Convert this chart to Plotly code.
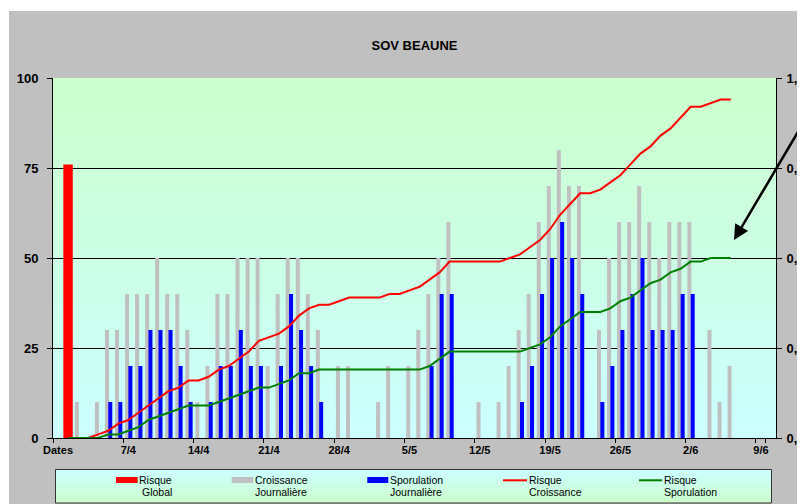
import pandas as pd
import plotly.graph_objects as go

# ---------------- data ----------------
dates = [f"{d.day}/{d.month}" for d in pd.date_range("2008-04-01", "2008-06-10")]
categories = ["Dates"] + dates
tick_labels = ["Dates", "7/4", "14/4", "21/4", "28/4", "5/5", "12/5", "19/5", "26/5", "2/6", "9/6"]

N = None
# values aligned with `dates` (1/4 ... 10/6)
risque_global = [76] + [N] * 70

croissance_journaliere = [
    N, 10, N, 10, 30, 30, 40, 40, 40, 50,
    40, 40, 30, 10, 20, 40, 40, 50, 50, 50,
    20, 40, 50, 50, 40, 30, N, 20, 20, N,
    N, 10, 20, N, 20, 30, 40, 50, 60, N,
    N, 10, N, 10, 20, 30, 40, 60, 70, 80,
    70, 70, N, 30, 50, 60, 60, 70, 60, 50,
    60, 60, 60, N, 30, 10, 20, N, N, N, N,
]

sporulation_journaliere = [
    N, N, N, N, 10, 10, 20, 20, 30, 30,
    30, 20, 10, N, 10, 20, 20, 30, 20, 20,
    N, 20, 40, 30, 20, 10, N, N, N, N,
    N, N, N, N, N, N, 20, 40, 40, N,
    N, N, N, N, N, 10, 20, 40, 50, 60,
    50, 40, N, 10, 20, 30, 40, 50, 30, 30,
    30, 40, 40, N, N, N, N, N, N, N, N,
]

risque_croissance = [
    0.00, 0.00, 0.00, 0.01, 0.02, 0.04, 0.05, 0.07, 0.09, 0.11,
    0.13, 0.14, 0.16, 0.16, 0.17, 0.19, 0.20, 0.22, 0.24, 0.27,
    0.28, 0.29, 0.31, 0.34, 0.36, 0.37, 0.37, 0.38, 0.39, 0.39,
    0.39, 0.39, 0.40, 0.40, 0.41, 0.42, 0.44, 0.46, 0.49, 0.49,
    0.49, 0.49, 0.49, 0.49, 0.50, 0.51, 0.53, 0.55, 0.58, 0.62,
    0.65, 0.68, 0.68, 0.69, 0.71, 0.73, 0.76, 0.79, 0.81, 0.84,
    0.86, 0.89, 0.92, 0.92, 0.93, 0.94, 0.94, N, N, N, N,
]

risque_sporulation = [
    0.00, 0.00, 0.00, 0.00, 0.01, 0.01, 0.02, 0.03, 0.05, 0.06,
    0.07, 0.08, 0.09, 0.09, 0.09, 0.10, 0.11, 0.12, 0.13, 0.14,
    0.14, 0.15, 0.16, 0.18, 0.18, 0.19, 0.19, 0.19, 0.19, 0.19,
    0.19, 0.19, 0.19, 0.19, 0.19, 0.19, 0.20, 0.22, 0.24, 0.24,
    0.24, 0.24, 0.24, 0.24, 0.24, 0.24, 0.25, 0.26, 0.28, 0.31,
    0.33, 0.35, 0.35, 0.35, 0.36, 0.38, 0.39, 0.41, 0.43, 0.44,
    0.46, 0.47, 0.49, 0.49, 0.50, 0.50, 0.50, N, N, N, N,
]

left_ticks = [0, 25, 50, 75, 100]
right_ticks = [0, 0.25, 0.5, 0.75, 1.0]
right_tick_labels = ["0,0", "0,3", "0,5", "0,8", "1,0"]

# ---------------- styling ----------------
FONT = "Liberation Sans, Arial, sans-serif"
OFF = 8                      # page body margin
W, H = 805 - OFF, 504 - OFF
PL, PR, PT, PB = 53, 776, 78, 438   # plot area in page pixels


def px_x(p):
    return (p - PL) / (PR - PL)


def px_y(p):
    return (PB - p) / (PB - PT)


fig = go.Figure()

fig.add_trace(go.Bar(x=dates, y=croissance_journaliere, name="Croissance Journalière",
                     marker=dict(color="#C0C0C0", line=dict(width=0)),
                     width=0.4, offset=-0.325))
fig.add_trace(go.Bar(x=dates, y=sporulation_journaliere, name="Sporulation Journalière",
                     marker=dict(color="#0000FF", line=dict(width=0)),
                     width=0.4, offset=0.005))
fig.add_trace(go.Bar(x=dates, y=risque_global, name="Risque Global",
                     marker=dict(color="#FF0000", line=dict(width=0)),
                     width=0.94, offset=-0.47))
fig.add_trace(go.Scatter(x=dates, y=risque_croissance, name="Risque Croissance", yaxis="y2",
                         mode="lines", line=dict(color="#FF0000", width=2), cliponaxis=False))
fig.add_trace(go.Scatter(x=dates, y=risque_sporulation, name="Risque Sporulation", yaxis="y2",
                         mode="lines", line=dict(color="#008000", width=2), cliponaxis=False))

shapes = []
# outer grey chart area
shapes.append(dict(type="rect", xref="paper", yref="paper", layer="below",
                   x0=px_x(9), x1=px_x(840), y0=px_y(540), y1=px_y(11),
                   fillcolor="#C0C0C0", line=dict(width=0)))


def gradient(x0, x1, y0, y1, c_top, c_bot, n):
    out = []
    for i in range(n):
        t = i / (n - 1)
        c = tuple(round(c_top[j] + (c_bot[j] - c_top[j]) * t) for j in range(3))
        ya = y0 + (y1 - y0) * i / n
        yb = min(y1, y0 + (y1 - y0) * (i + 1) / n + 0.6)
        out.append(dict(type="rect", xref="paper", yref="paper", layer="below",
                        x0=px_x(x0), x1=px_x(x1), y0=px_y(ya), y1=px_y(yb),
                        fillcolor="rgb(%d,%d,%d)" % c, line=dict(width=0)))
    return out


shapes += gradient(PL, PR, PT, PB, (204, 255, 204), (204, 255, 255), 60)
# legend box
shapes += gradient(55.5, 771.5, 469.5, 503, (204, 255, 255), (204, 255, 204), 12)
shapes.append(dict(type="rect", xref="paper", yref="paper", layer="below",
                   x0=px_x(55.5), x1=px_x(771.5), y0=px_y(503), y1=px_y(469.5),
                   fillcolor="rgba(0,0,0,0)", line=dict(color="#333333", width=1)))
# legend symbols
for (a, b, col) in [(116, 137.7, "#FF0000"), (231.7, 253.3, "#C0C0C0"), (367.3, 388.3, "#0000FF")]:
    shapes.append(dict(type="rect", xref="paper", yref="paper", layer="below",
                       x0=px_x(a), x1=px_x(b), y0=px_y(483), y1=px_y(477),
                       fillcolor=col, line=dict(width=0)))
for (a, b, col) in [(503, 527, "#FF0000"), (639, 662, "#008000")]:
    shapes.append(dict(type="line", xref="paper", yref="paper", layer="below",
                       x0=px_x(a), x1=px_x(b), y0=px_y(480.3), y1=px_y(480.3),
                       line=dict(color=col, width=2)))

annotations = []
legend_texts = [
    ("Risque", "Global", 172.8, "right"),
    ("Croissance", "Journalière", 254.0, "left"),
    ("Sporulation", "Journalière", 389.0, "left"),
    ("Risque", "Croissance", 528.0, "left"),
    ("Risque", "Sporulation", 663.0, "left"),
]
for l1, l2, xp, anc in legend_texts:
    for txt, yp in [(l1, 480.3), (l2, 491.7)]:
        annotations.append(dict(text=txt, xref="paper", yref="paper", x=px_x(xp), y=px_y(yp),
                                xanchor=anc, yanchor="middle", showarrow=False, borderpad=0,
                                font=dict(family=FONT, size=10.5, color="black")))
# arrow
annotations.append(dict(text="", xref="paper", yref="paper", x=px_x(734), y=px_y(240),
                        ax=82, ay=-120, showarrow=True, arrowhead=2, arrowsize=1.2,
                        arrowwidth=2.5, arrowcolor="black", standoff=0))

fig.update_layout(
    width=W, height=H, autosize=False,
    margin=dict(l=PL - OFF, r=W - (PR - OFF), t=PT - OFF, b=H - (PB - OFF), pad=0),
    paper_bgcolor="white", plot_bgcolor="rgba(0,0,0,0)",
    barmode="overlay", showlegend=False,
    font=dict(family=FONT, color="black"),
    title=dict(text="SOV BEAUNE", x=0.5, xref="paper", xanchor="center",
               y=1 - (45 - OFF) / H, yref="container", yanchor="middle",
               font=dict(family=FONT, size=13, color="black", weight="bold")),
    xaxis=dict(type="category", categoryorder="array", categoryarray=categories,
               range=[-0.5, len(categories) - 0.5], automargin=False,
               tickmode="array", tickvals=tick_labels, ticktext=tick_labels,
               tickson="boundaries", ticks="outside", ticklen=4, tickcolor="black",
               tickangle=0, ticklabelstandoff=2,
               showline=True, linecolor="black", linewidth=1, showgrid=False,
               tickfont=dict(family=FONT, size=11, color="black", weight="bold")),
    yaxis=dict(range=[0, 100], tickmode="array", tickvals=left_ticks, automargin=False,
               ticks="outside", ticklen=5, tickcolor="black",
               showline=True, linecolor="black", linewidth=1,
               showgrid=True, gridcolor="black", gridwidth=1, zeroline=False,
               ticklabelstandoff=6,
               tickfont=dict(family=FONT, size=13, color="black", weight="bold")),
    yaxis2=dict(range=[0, 1], overlaying="y", side="right", tickmode="array",
                tickvals=right_ticks, ticktext=right_tick_labels, automargin=False,
                ticks="outside", ticklen=5, tickcolor="black",
                showline=True, linecolor="black", linewidth=1,
                showgrid=False, zeroline=False, ticklabelstandoff=2,
                tickfont=dict(family=FONT, size=13, color="black", weight="bold")),
    shapes=shapes, annotations=annotations,
)

fig.write_html(
    "out.html",
    post_script="document.documentElement.style.overflow='hidden';"
                "document.body.style.overflow='hidden';",
)
